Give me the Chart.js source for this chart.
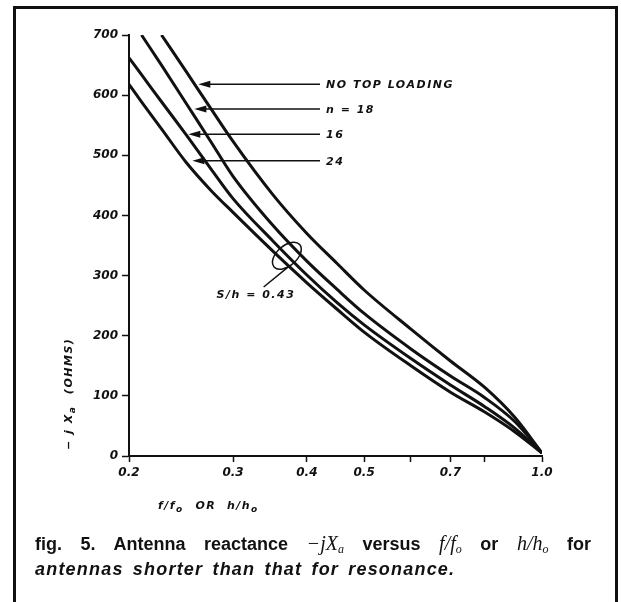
<!DOCTYPE html>
<html lang="en">
<head>
<meta charset="UTF-8">
<title>fig. 5 Antenna reactance</title>
<script src="https://cdn.jsdelivr.net/npm/chart.js"></script>
<style>
  body { margin: 0; background: #fff; }
  #wrap { position: relative; width: 621px; height: 602px; overflow: hidden; }
  #frame { position: absolute; left: 13px; top: 6px; width: 599px; height: 640px; border: 3px solid #111; border-bottom: none; }
  canvas { position: absolute; left: 0; top: 0; }
  .cap { position: absolute; left: 35px; width: 556px; font-family: "Liberation Sans", Arial, sans-serif; font-weight: bold; font-size: 18px; color: #111; }
  #cap1 { top: 532px; text-align: justify; text-align-last: justify; }
  #cap2 { top: 559px; font-style: italic; letter-spacing: 1.2px; word-spacing: 3px; }
  .m { font-family: "Liberation Serif", serif; font-style: italic; font-weight: normal; font-size: 20px; }
  sub { font-size: 12px; vertical-align: -3px; line-height: 0; }
</style>
</head>
<body>
<div id="wrap">
  <div id="frame"></div>
  <canvas id="fig" width="621" height="602"></canvas>
  <div class="cap" id="cap1">fig. 5. Antenna reactance <span class="m">−jX<sub>a</sub></span> versus <span class="m">f/f<sub>o</sub></span> or <span class="m">h/h<sub>o</sub></span> for</div>
  <div class="cap" id="cap2">antennas shorter than that for resonance.</div>
</div>
<script>
// f/fo (or h/ho) sample points, log axis
const ratio = [0.2, 0.21, 0.227, 0.25, 0.275, 0.3, 0.35, 0.4, 0.45, 0.5, 0.6, 0.7, 0.8, 0.9, 1.0];
// -jXa in ohms
const noTop = [null, null, 700, 639, 578, 523, 435, 370, 320, 276, 211, 158, 114, 64, 5];
const n18   = [null, 700, 650, 586, 523, 465, 384, 324, 277, 237, 178, 133, 97, 57, 5];
const n16   = [662, 634, 589, 534, 478, 428, 358, 301, 255, 218, 162, 118, 82, 46, 5];
const n24   = [618, 589, 544, 488, 442, 405, 341, 288, 244, 206, 150, 106, 73, 40, 5];

const xTicks = [0.2, 0.3, 0.4, 0.5, 0.6, 0.7, 0.8, 1.0];
const xTickLabels = ['0.2', '0.3', '0.4', '0.5', '', '0.7', '', '1.0'];

// arrow call-outs: label, level (ohms), tip (f/fo)
const arrowLabels = ['NO TOP LOADING', 'n = 18', '16', '24'];
const arrowLevel = [618, 577, 535, 491];
const arrowTip = [0.262, 0.258, 0.252, 0.256];
const arrowEnd = 0.421;

// S/h ellipse and its label
const ringAt = [0.37, 333];
const leaderEnd = [0.338, 281];
const ringLabel = 'S/h = 0.43';
const ringLabelAt = [0.328, 267];

const INK = '#111';
const tickFont = { family: 'DejaVu Sans', style: 'italic', weight: 'bold', size: 12 };

function pts(ys) {
  return ratio.map((x, i) => ({ x: x, y: ys[i] })).filter(p => p.y !== null);
}

function subText(ctx, parts, x, y) {
  // parts: [text, isSub]
  let cx = x;
  parts.forEach(([t, sub]) => {
    ctx.font = sub ? 'italic bold 9px "DejaVu Sans"' : 'italic bold 11px "DejaVu Sans"';
    ctx.fillText(t, cx, sub ? y + 4 : y);
    cx += ctx.measureText(t).width + (sub ? 1 : 0);
  });
}

const annotate = {
  id: 'annotate',
  afterDraw(chart) {
    const { ctx, scales: { x, y } } = chart;
    ctx.save();
    ctx.strokeStyle = INK;
    ctx.fillStyle = INK;
    ctx.letterSpacing = '1.5px';
    ctx.textBaseline = 'middle';

    // arrows pointing at the curves
    arrowLabels.forEach((t, i) => {
      const py = y.getPixelForValue(arrowLevel[i]);
      const tip = x.getPixelForValue(arrowTip[i]);
      const end = x.getPixelForValue(arrowEnd);
      ctx.lineWidth = 1.6;
      ctx.beginPath(); ctx.moveTo(tip + 8, py); ctx.lineTo(end, py); ctx.stroke();
      ctx.beginPath();
      ctx.moveTo(tip, py); ctx.lineTo(tip + 12, py - 3.5); ctx.lineTo(tip + 12, py + 3.5);
      ctx.closePath(); ctx.fill();
      ctx.font = 'italic bold 11px "DejaVu Sans"';
      ctx.fillText(t, end + 6, py + 1);
    });

    // ellipse round the 0.43 crossing
    const cx = x.getPixelForValue(ringAt[0]);
    const cy = y.getPixelForValue(ringAt[1]);
    ctx.lineWidth = 1.5;
    ctx.beginPath();
    ctx.ellipse(cx, cy, 17, 10, -0.72, 0, Math.PI * 2);
    ctx.stroke();
    const a = Math.PI * 0.62;
    const sx = cx + 17 * Math.cos(a) * Math.cos(-0.72) - 10 * Math.sin(a) * Math.sin(-0.72);
    const sy = cy + 17 * Math.cos(a) * Math.sin(-0.72) + 10 * Math.sin(a) * Math.cos(-0.72);
    ctx.beginPath();
    ctx.moveTo(sx, sy);
    ctx.lineTo(x.getPixelForValue(leaderEnd[0]), y.getPixelForValue(leaderEnd[1]));
    ctx.stroke();
    ctx.font = 'italic bold 11px "DejaVu Sans"';
    ctx.textAlign = 'center';
    ctx.fillText(ringLabel, x.getPixelForValue(ringLabelAt[0]), y.getPixelForValue(ringLabelAt[1]));
    ctx.textAlign = 'left';

    // axis titles
    subText(ctx, [['f/f', false], ['o', true], ['  OR  h/h', false], ['o', true]], x.left + 29, x.bottom - 10);
    ctx.translate(y.left + 69, y.bottom - 6);
    ctx.rotate(-Math.PI / 2);
    subText(ctx, [['− j X', false], ['a', true], ['  (OHMS)', false]], 0, 0);
    ctx.restore();
  }
};

const style = { borderColor: INK, borderWidth: 3, pointRadius: 0, fill: false, cubicInterpolationMode: 'monotone' };

new Chart(document.getElementById('fig'), {
  type: 'line',
  data: {
    datasets: [
      { label: 'NO TOP LOADING', data: pts(noTop), ...style },
      { label: 'n = 18', data: pts(n18), ...style },
      { label: '16', data: pts(n16), ...style },
      { label: '24', data: pts(n24), ...style }
    ]
  },
  options: {
    responsive: false,
    animation: false,
    devicePixelRatio: 1,
    layout: { padding: { left: 0, top: 35, right: 79, bottom: 86 } },
    plugins: { legend: { display: false }, tooltip: { enabled: false } },
    scales: {
      x: {
        type: 'logarithmic', min: 0.2, max: 1.0,
        afterBuildTicks: s => { s.ticks = xTicks.map(v => ({ value: v })); },
        afterFit: s => { s.height = 60; },
        ticks: { autoSkip: false, maxRotation: 0, padding: 4, color: INK, font: tickFont,
                 callback: (v, i) => xTickLabels[i] },
        grid: { drawOnChartArea: false, tickLength: 6, tickWidth: 1.5, color: INK },
        border: { color: INK, width: 2 }
      },
      y: {
        min: 0, max: 700,
        afterFit: s => { s.width = 129; },
        ticks: { stepSize: 100, padding: 4, color: INK, font: tickFont },
        grid: { drawOnChartArea: false, tickLength: 7, tickWidth: 1.5, color: INK },
        border: { color: INK, width: 2 }
      }
    }
  },
  plugins: [annotate]
});
</script>
</body>
</html>
